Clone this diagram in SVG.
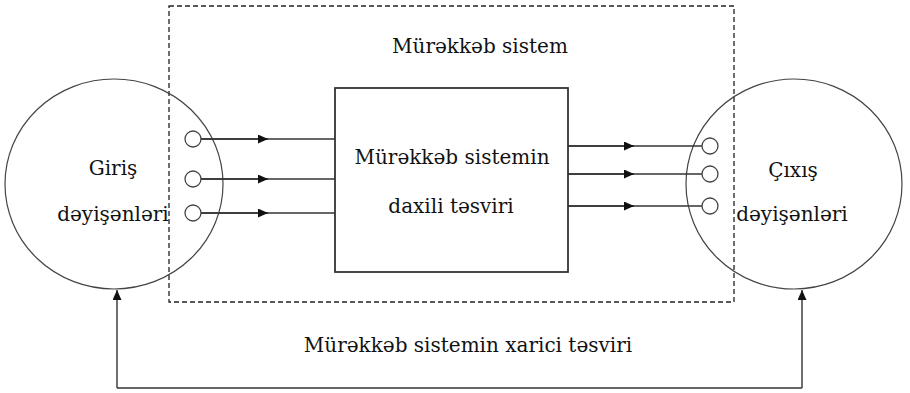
<svg xmlns="http://www.w3.org/2000/svg" width="910" height="393" viewBox="0 0 910 393">
  <defs>
    <marker id="arr" viewBox="0 0 10 10" refX="10" refY="5" markerWidth="10" markerHeight="9" markerUnits="userSpaceOnUse" orient="auto" preserveAspectRatio="none">
      <path d="M0,0 L10,5 L0,10 Z" fill="#111"/>
    </marker>
    <style>
      .line { stroke: #333; stroke-width: 1.4; fill: none; }
      .box { stroke: #333; stroke-width: 1.8; fill: #fff; }
      .big { stroke: #444; stroke-width: 1.2; fill: none; }
      .port { stroke: #444; stroke-width: 1.3; fill: #fff; }
      .dash { stroke: #222; stroke-width: 1.3; fill: none; stroke-dasharray: 5 3; }
      .lbl { font-family: "DejaVu Serif", "Liberation Serif", serif; font-size: 20px; fill: #111; text-anchor: middle; }
    </style>
  </defs>

  <rect width="910" height="393" fill="#fff"/>

  <!-- system boundary -->
  <g id="system">
    <rect class="dash" x="169" y="6" width="565" height="296"/>
    <text class="lbl" x="480" y="53">Mürəkkəb sistem</text>
  </g>

  <!-- input variables -->
  <g id="inputs">
    <ellipse class="big" cx="114" cy="184" rx="109" ry="105"/>
    <text class="lbl" x="113" y="175">Giriş</text>
    <text class="lbl" x="113" y="221">dəyişənləri</text>
  </g>

  <!-- output variables -->
  <g id="outputs">
    <ellipse class="big" cx="794" cy="184" rx="108" ry="105"/>
    <text class="lbl" x="793" y="177">Çıxış</text>
    <text class="lbl" x="792" y="221">dəyişənləri</text>
  </g>

  <!-- internal description -->
  <g id="internal">
    <rect class="box" x="335" y="88" width="233" height="184"/>
    <text class="lbl" x="452" y="164">Mürəkkəb sistemin</text>
    <text class="lbl" x="451" y="213">daxili təsviri</text>
  </g>

  <!-- external description -->
  <g id="external">
    <text class="lbl" x="468" y="352">Mürəkkəb sistemin xarici təsviri</text>
  </g>

  <g id="connectors">
    <!-- inputs to box -->
    <path class="line" d="M201,139 H335"/>
    <path class="line" d="M201,179 H335"/>
    <path class="line" d="M201,213 H335"/>
    <path class="line" d="M201,139 H268" marker-end="url(#arr)"/>
    <path class="line" d="M201,179 H268" marker-end="url(#arr)"/>
    <path class="line" d="M201,213 H268" marker-end="url(#arr)"/>
    <!-- box to outputs -->
    <path class="line" d="M568,146 H702"/>
    <path class="line" d="M568,174 H702"/>
    <path class="line" d="M568,206 H702"/>
    <path class="line" d="M568,146 H634" marker-end="url(#arr)"/>
    <path class="line" d="M568,174 H634" marker-end="url(#arr)"/>
    <path class="line" d="M568,206 H634" marker-end="url(#arr)"/>
    <!-- external loop -->
    <path class="line" d="M117,388 V290" marker-end="url(#arr)"/>
    <path class="line" d="M117,388 H802"/>
    <path class="line" d="M802,388 V290" marker-end="url(#arr)"/>
  </g>

  <!-- ports -->
  <g id="ports">
    <circle class="port" cx="193" cy="139" r="8"/>
    <circle class="port" cx="193" cy="179" r="8"/>
    <circle class="port" cx="193" cy="213" r="8"/>
    <circle class="port" cx="710" cy="146" r="8"/>
    <circle class="port" cx="710" cy="174" r="8"/>
    <circle class="port" cx="710" cy="206" r="8"/>
  </g>
</svg>
